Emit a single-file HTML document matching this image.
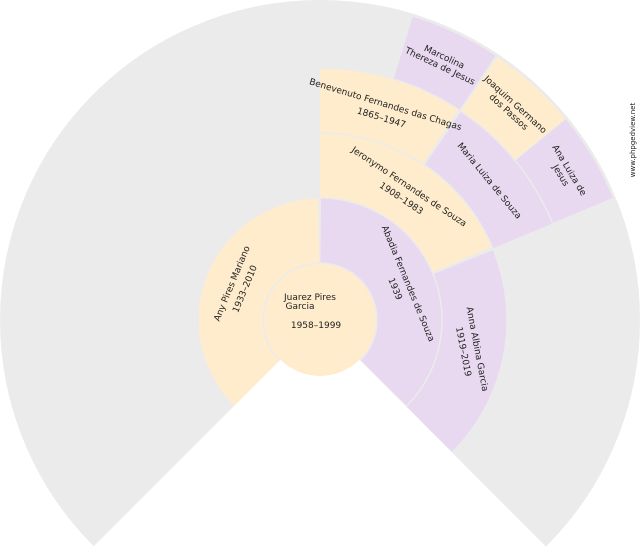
<!DOCTYPE html>
<html><head><meta charset="utf-8"><style>
html,body{margin:0;padding:0;background:#fff;width:640px;height:550px;overflow:hidden;}
svg{display:block;}
text{font-family:"DejaVu Sans","Liberation Sans",sans-serif;font-size:9px;fill:#222;text-anchor:middle;}
</style></head><body>
<svg width="640" height="550" viewBox="0 0 640 550" xmlns="http://www.w3.org/2000/svg">
<g fill="none">
<circle cx="320" cy="320" r="160" stroke="#ebebeb" stroke-width="320" stroke-dasharray="753.98 1005.3" transform="rotate(-225 320 320)"/>
<!-- ring1 -->
<circle cx="320" cy="320" r="89.5" stroke="#ffeccc" stroke-width="63.5" stroke-dasharray="209.4 352.9" transform="rotate(-225 320 320)"/>
<circle cx="320" cy="320" r="89.5" stroke="#e8d9f0" stroke-width="63.5" stroke-dasharray="209.4 352.9" transform="rotate(-89.5 320 320)"/>
<!-- ring2 -->
<circle cx="320" cy="320" r="154.5" stroke="#ffeccc" stroke-width="63.5" stroke-dasharray="180.5 790.3" transform="rotate(-90 320 320)"/>
<circle cx="320" cy="320" r="154.5" stroke="#e8d9f0" stroke-width="63.5" stroke-dasharray="180.5 790.3" transform="rotate(-22 320 320)"/>
<!-- ring3 -->
<circle cx="320" cy="320" r="219.5" stroke="#ffeccc" stroke-width="63.5" stroke-dasharray="127.8 1251.4" transform="rotate(-90 320 320)"/>
<circle cx="320" cy="320" r="219.5" stroke="#e8d9f0" stroke-width="63.5" stroke-dasharray="127.8 1251.4" transform="rotate(-55.9 320 320)"/>
<!-- ring4 -->
<circle cx="320" cy="320" r="285" stroke="#e8d9f0" stroke-width="64.5" stroke-dasharray="82.4 1708.3" transform="rotate(-73 320 320)"/>
<circle cx="320" cy="320" r="285" stroke="#ffeccc" stroke-width="64.5" stroke-dasharray="82.4 1708.3" transform="rotate(-56 320 320)"/>
<circle cx="320" cy="320" r="285" stroke="#e8d9f0" stroke-width="64.5" stroke-dasharray="82.4 1708.3" transform="rotate(-39.2 320 320)"/>
</g>
<circle cx="320" cy="320" r="56" fill="#ffeccc"/>
<text x="310" y="300">Juarez Pires</text>
<text x="300" y="309">Garcia</text>
<text x="316" y="328">1958–1999</text>

<g transform="translate(320,320) rotate(-67.5) translate(0,-89.5)"><text y="-3">Any Pires Mariano</text><text y="11">1933–2010</text></g>
<g transform="translate(320,320) rotate(67.5) translate(0,-89.5)"><text y="-3">Abadia Fernandes de Souza</text><text y="11">1939</text></g>
<g transform="translate(320,320) rotate(33.75) translate(0,-154.5)"><text y="-3">Jeronymo Fernandes de Souza</text><text y="11">1908–1983</text></g>
<g transform="translate(320,320) rotate(101.25) translate(0,-154.5) rotate(-22)"><text y="-3">Anna Albina Garcia</text><text y="11">1919–2019</text></g>
<g transform="translate(320,320) rotate(16.9) translate(0,-219.5)"><text y="-3">Benevenuto Fernandes das Chagas</text><text y="11">1865–1947</text></g>
<g transform="translate(320,320) rotate(50.6) translate(0,-219.5)"><text y="3">Maria Luiza de Souza</text></g>
<g transform="translate(320,320) rotate(25.3) translate(0,-285)"><text y="-3">Marcolina</text><text y="7">Thereza de Jesus</text></g>
<g transform="translate(320,320) rotate(42.2) translate(0,-285)"><text y="-3">Joaquim Germano</text><text y="7">dos Passos</text></g>
<g transform="translate(320,320) rotate(59) translate(0,-285)"><text y="-3">Ana Luiza de</text><text y="7">Jesus</text></g>

<text transform="translate(635,140) rotate(-90)" style="font-size:7px">www.phpgedview.net</text>
</svg>
</body></html>
